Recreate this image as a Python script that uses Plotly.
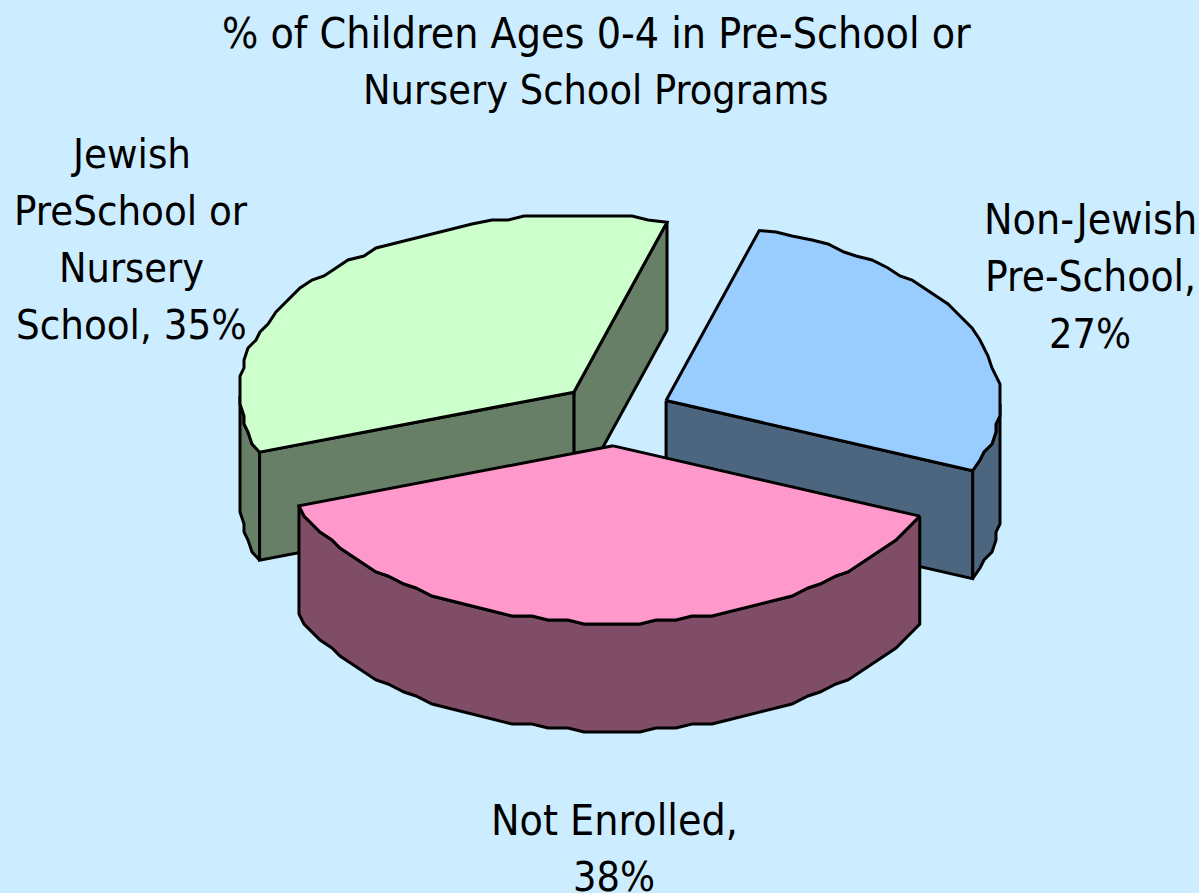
import numpy as np
import plotly.graph_objects as go

# Slice data, clockwise from the start angle
categories = ["Non-Jewish Pre-School", "Not Enrolled", "Jewish PreSchool or Nursery School"]
percent = [27, 38, 35]
top_colors = ["#99CCFF", "#FF99CC", "#CCFFCC"]
side_colors = ["#4D6680", "#804D66", "#667F66"]

title_lines = ["% of Children Ages 0-4 in Pre-School or", "Nursery School Programs"]
label_lines = [["Non-Jewish", "Pre-School,", "27%"], ["Not Enrolled,", "38%"],
               ["Jewish", "PreSchool or", "Nursery", "School, 35%"]]

# Projection of the tilted pie onto the page
CX, CY = 615, 414
RX, RY = 334, 177
DEPTH = 108
EXPLODE_X, EXPLODE_Y = 0.169, 0.18
START = 16.2
GRID = 4.0          # arcs are snapped to a coarse grid, giving the stepped outline
ARC_STEP = 3.0      # degrees between outline vertices
FONT = "DejaVu Sans Condensed"
LINE_W = 3
BG = "#CCECFF"


def arc(a0, a1, ox, oy):
    """Outline of the ellipse between two clockwise angles (degrees from the top)."""
    n = max(2, int(abs(a1 - a0) / ARC_STEP))
    t = np.radians(np.linspace(a0, a1, n))
    x = ox + RX * np.sin(t)
    y = oy - RY * np.cos(t)
    x[1:-1] = np.round(x[1:-1] / GRID) * GRID
    y[1:-1] = np.round(y[1:-1] / GRID) * GRID
    return x, y


def poly(fig, xs, ys, color):
    fig.add_trace(go.Scatter(x=np.r_[xs, xs[0]], y=np.r_[ys, ys[0]], mode="lines", fill="toself",
                             fillcolor=color, line=dict(color="black", width=LINE_W),
                             hoverinfo="skip", showlegend=False))


# Slice angles follow from the percentages
edges = START + np.r_[0, np.cumsum(percent)] * 3.6
slices = []
for i in range(3):
    a0, a1 = edges[i], edges[i + 1]
    mid = np.radians((a0 + a1) / 2)
    slices.append(dict(a0=a0, a1=a1, ox=CX + EXPLODE_X * RX * np.sin(mid),
                       oy=CY - EXPLODE_Y * RY * np.cos(mid), top=top_colors[i], side=side_colors[i]))

fig = go.Figure()


def wall(s, a0, a1):
    # The wall runs along the top rim, so it is traced on the same vertices
    x, y = arc(s["a0"], s["a1"], s["ox"], s["oy"])
    deg = np.linspace(s["a0"], s["a1"], len(x))
    keep = (deg >= a0 - 1e-6) & (deg <= a1 + 1e-6)
    x, y = x[keep], y[keep]
    poly(fig, np.r_[x, x[::-1]], np.r_[y, y[::-1] + DEPTH], s["side"])


def cut_face(s, angle):
    t = np.radians(angle)
    ex, ey = s["ox"] + RX * np.sin(t), s["oy"] - RY * np.cos(t)
    poly(fig, np.array([s["ox"], ex, ex, s["ox"]]),
         np.array([s["oy"], ey, ey + DEPTH, s["oy"] + DEPTH]), s["side"])


def top(s):
    x, y = arc(s["a0"], s["a1"], s["ox"], s["oy"])
    poly(fig, np.r_[s["ox"], x], np.r_[s["oy"], y], s["top"])


blue, pink, green = slices

# Painted back to front: side slices first, the front slice last
wall(blue, 90, blue["a1"])
cut_face(blue, blue["a1"])
top(blue)

wall(green, green["a0"], 270)
cut_face(green, green["a1"])
cut_face(green, green["a0"])
top(green)

wall(pink, pink["a0"], pink["a1"])
top(pink)


def text_block(lines, x, y0, sizes, step=57.3):
    for i, line in enumerate(lines):
        fig.add_annotation(x=x, y=y0 + i * step, text=line, showarrow=False, xanchor="center",
                           yanchor="middle", font=dict(family=FONT, size=sizes[i], color="black"))


text_block(title_lines, 596, 33, [42.5, 41])
text_block(label_lines[0], 1090, 219, [42.5, 42, 41])
text_block(label_lines[1], 614, 820, [42.5, 41])
text_block(label_lines[2], 131, 153, [41.5, 41.5, 41, 41.5])

fig.update_layout(width=1199, height=893, margin=dict(l=0, r=0, t=0, b=0), paper_bgcolor=BG, plot_bgcolor=BG,
                  xaxis=dict(range=[0, 1199], visible=False, fixedrange=True),
                  yaxis=dict(range=[893, 0], visible=False, fixedrange=True))
fig.write_html("out.html", config={"displayModeBar": False})
